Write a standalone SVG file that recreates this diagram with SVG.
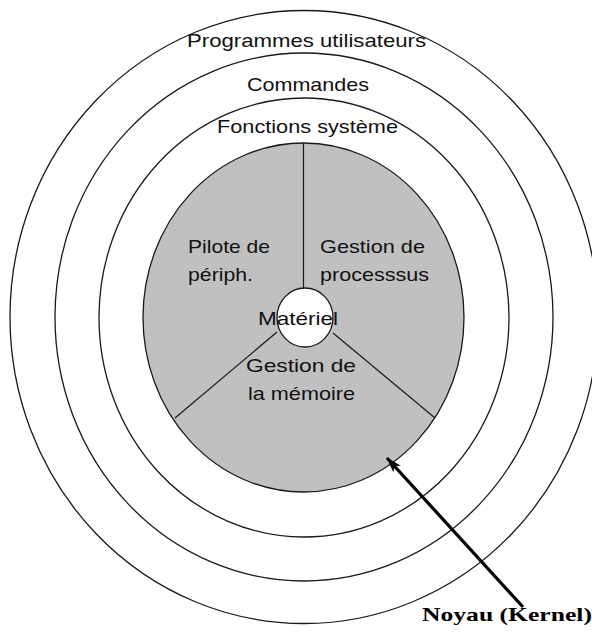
<svg xmlns="http://www.w3.org/2000/svg" width="592" height="635" viewBox="0 0 592 635">
<defs>
<style>
.ring{fill:none;stroke:#1a1a1a;stroke-width:1.3}
.lbl{font-family:"Liberation Sans",Arial,sans-serif;font-size:19px;fill:#111}
.div{stroke:#1a1a1a;stroke-width:1.2}
</style>
<marker id="ah" viewBox="0 0 16 10" refX="15" refY="5" markerWidth="16" markerHeight="10" markerUnits="userSpaceOnUse" orient="auto">
<path d="M0,0 L16,5 L0,10 L4,5 Z" fill="#000"/>
</marker>
</defs>
<rect width="592" height="635" fill="#fff"/>
<g id="programmes-utilisateurs">
<ellipse class="ring" cx="304" cy="317" rx="294" ry="306.5"/>
<text class="lbl" x="187" y="47" textLength="239" lengthAdjust="spacingAndGlyphs">Programmes utilisateurs</text>
</g>
<g id="commandes">
<ellipse class="ring" cx="304" cy="317" rx="249" ry="264"/>
<text class="lbl" x="247" y="91" textLength="122" lengthAdjust="spacingAndGlyphs">Commandes</text>
</g>
<g id="fonctions-systeme">
<ellipse class="ring" cx="304" cy="317.5" rx="205" ry="219.5"/>
<text class="lbl" x="217" y="133" textLength="181" lengthAdjust="spacingAndGlyphs">Fonctions système</text>
</g>
<g id="noyau">
<ellipse cx="303.5" cy="317.5" rx="160.5" ry="174.5" fill="#c0c0c0" stroke="#1a1a1a" stroke-width="1.3"/>
<line class="div" x1="303.5" y1="143" x2="303.5" y2="288"/>
<line class="div" x1="277" y1="332" x2="175" y2="418"/>
<line class="div" x1="333" y1="333" x2="435" y2="418"/>
</g>
<g id="pilote">
<text class="lbl" x="188" y="253" textLength="82" lengthAdjust="spacingAndGlyphs">Pilote de</text>
<text class="lbl" x="188" y="281" textLength="65" lengthAdjust="spacingAndGlyphs">périph.</text>
</g>
<g id="gestion-processus">
<text class="lbl" x="320" y="253" textLength="105" lengthAdjust="spacingAndGlyphs">Gestion de</text>
<text class="lbl" x="320" y="281" textLength="109" lengthAdjust="spacingAndGlyphs">processsus</text>
</g>
<g id="gestion-memoire">
<text class="lbl" x="246" y="372" textLength="110" lengthAdjust="spacingAndGlyphs">Gestion de</text>
<text class="lbl" x="248" y="400" textLength="107" lengthAdjust="spacingAndGlyphs">la mémoire</text>
</g>
<g id="materiel">
<ellipse cx="305" cy="317.5" rx="28" ry="29.5" fill="#fff" stroke="#1a1a1a" stroke-width="1.3"/>
<text class="lbl" x="258" y="325" textLength="80" lengthAdjust="spacingAndGlyphs">Matériel</text>
</g>
<g id="connectors">
<line x1="523" y1="607" x2="387" y2="458" stroke="#000" stroke-width="3.2" marker-end="url(#ah)"/>
</g>
<g id="kernel-label">
<text x="422" y="621" font-family="'Liberation Serif','Times New Roman',serif" font-weight="bold" font-size="19" fill="#000" textLength="170" lengthAdjust="spacingAndGlyphs">Noyau (Kernel)</text>
</g>
</svg>
